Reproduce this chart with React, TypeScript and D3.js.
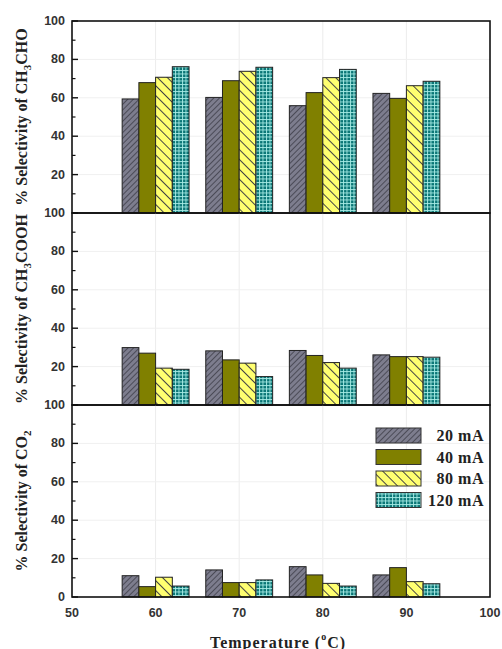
import React from "react";
import * as d3 from "d3";

const temperatures = [60, 70, 80, 90];
const currents = ["20 mA", "40 mA", "80 mA", "120 mA"];
const xTicks = [50, 60, 70, 80, 90, 100];

// rows: 20, 40, 80, 120 mA ; columns: 60, 70, 80, 90 °C
const ch3choValues = [
  [59.4, 60.2, 55.9, 62.3],
  [67.9, 68.9, 62.7, 59.7],
  [70.7, 73.8, 70.5, 66.3],
  [76.2, 75.9, 74.8, 68.6],
];
const ch3coohValues = [
  [29.9, 28.2, 28.4, 26.1],
  [27.0, 23.5, 25.8, 25.2],
  [19.2, 21.8, 22.1, 25.2],
  [18.6, 14.8, 19.2, 24.9],
];
const co2Values = [
  [11.1, 14.1, 15.8, 11.5],
  [5.4, 7.5, 11.5, 15.3],
  [10.3, 7.5, 7.1, 8.0],
  [5.7, 8.9, 5.7, 6.9],
];

const W = 502;
const H = 649;
const left = 72;
const right = 490;
const panelTops = [21, 213, 405];
const panelH = 192;

const fills = ["url(#p20)", "#808000", "url(#p80)", "url(#p120)"];

const x = d3.scaleLinear().domain([50, 100]).range([left, right]);
const barW = 2;

function Panel({ top, values, label, sub, subRest, showZero }: any) {
  const y = d3.scaleLinear().domain([0, 100]).range([top + panelH, top]);
  const majors = [20, 40, 60, 80, 100];
  const minors = d3.range(10, 100, 10).filter((v) => v % 20 !== 0);
  const labelTicks = showZero ? [0, ...majors] : majors;
  const cy = top + panelH / 2;
  return (
    <g>
      {[60, 70, 80, 90].map((t) => (
        <line key={"gx" + t} x1={x(t)} x2={x(t)} y1={top} y2={top + panelH} stroke="#ececec" />
      ))}
      {[20, 40, 60, 80].map((v) => (
        <line key={"gy" + v} x1={left} x2={right} y1={y(v)} y2={y(v)} stroke="#f0f0f0" />
      ))}
      {values.map((row: number[], si: number) =>
        row.map((v, ti) => {
          const t = temperatures[ti];
          const x0 = t - 4 + si * barW;
          return (
            <rect
              key={si + "-" + ti}
              x={x(x0)}
              y={y(v)}
              width={x(x0 + barW) - x(x0)}
              height={y(0) - y(v)}
              fill={fills[si]}
              stroke="#222"
              strokeWidth={1}
            />
          );
        })
      )}
      <rect x={left} y={top} width={right - left} height={panelH} fill="none" stroke="#111" strokeWidth={1.6} />
      {majors.concat([0]).map((v) => (
        <line key={"mt" + v} x1={left} x2={left + 6} y1={y(v)} y2={y(v)} stroke="#111" strokeWidth={1.4} />
      ))}
      {minors.map((v) => (
        <line key={"nt" + v} x1={left} x2={left + 3.5} y1={y(v)} y2={y(v)} stroke="#111" strokeWidth={1.2} />
      ))}
      {labelTicks.map((v) => (
        <text
          key={"tl" + v}
          x={left - 7}
          y={y(v)}
          textAnchor="end"
          dominantBaseline="central"
          fontFamily="Liberation Sans, Arial, sans-serif"
          fontWeight="bold"
          fontSize={12.5}
          fill="#333"
        >
          {v}
        </text>
      ))}
      <text
        transform={`translate(21,${cy}) rotate(-90)`}
        textAnchor="middle"
        dominantBaseline="central"
        fontFamily="Liberation Serif, Times New Roman, serif"
        fontWeight="bold"
        fontSize={16}
        fill="#222"
      >
        {label}
        <tspan baselineShift="sub" fontSize={11}>{sub}</tspan>
        {subRest ? <tspan>{subRest}</tspan> : null}
      </text>
    </g>
  );
}

export default function App() {
  const legendX = 376;
  const legendY = 428;
  return (
    <svg width={W} height={H} style={{ position: "absolute", left: 0, top: 0, background: "#fff" }}>
      <defs>
        <pattern id="p20" patternUnits="userSpaceOnUse" width={4} height={4} patternTransform="rotate(45)">
          <rect width={4} height={4} fill="#7d7d8e" />
          <line x1={0} y1={0} x2={0} y2={4} stroke="#3a3a44" strokeWidth={1.5} />
        </pattern>
        <pattern id="p80" patternUnits="userSpaceOnUse" width={7} height={7} patternTransform="rotate(-45)">
          <rect width={7} height={7} fill="#ffff70" />
          <line x1={0} y1={0} x2={0} y2={7} stroke="#444" strokeWidth={2} />
        </pattern>
        <pattern id="p120" patternUnits="userSpaceOnUse" width={3.5} height={3.5}>
          <rect width={3.5} height={3.5} fill="#087575" />
          <line x1={0} y1={0.5} x2={3.5} y2={0.5} stroke="#a8ece6" strokeWidth={0.9} />
          <line x1={0.5} y1={0} x2={0.5} y2={3.5} stroke="#a8ece6" strokeWidth={0.9} />
        </pattern>
      </defs>
      <rect width={W} height={H} fill="#fff" />
      <Panel top={panelTops[0]} values={ch3choValues} label="% Selectivity of CH" sub="3" subRest="CHO" />
      <Panel top={panelTops[1]} values={ch3coohValues} label="% Selectivity of CH" sub="3" subRest="COOH" />
      <Panel top={panelTops[2]} values={co2Values} label="% Selectivity of CO" sub="2" showZero />
      {xTicks.map((t) => (
        <text
          key={"xt" + t}
          x={x(t)}
          y={613}
          textAnchor="middle"
          dominantBaseline="central"
          fontFamily="Liberation Sans, Arial, sans-serif"
          fontWeight="bold"
          fontSize={12.5}
          fill="#333"
        >
          {t}
        </text>
      ))}
      <text
        x={278}
        y={642}
        textAnchor="middle"
        dominantBaseline="central"
        fontFamily="Liberation Serif, Times New Roman, serif"
        fontWeight="bold"
        fontSize={16}
        letterSpacing={1}
        fill="#222"
      >
        Temperature (<tspan baselineShift="super" fontSize={10}>o</tspan>C)
      </text>
      {currents.map((c, i) => (
        <g key={c}>
          <rect x={legendX} y={legendY + i * 21.5} width={45} height={15} fill={fills[i]} stroke="#333" strokeWidth={1} />
          <text
            x={484}
            y={legendY + i * 21.5 + 7.5}
            textAnchor="end"
            dominantBaseline="central"
            fontFamily="Liberation Serif, Times New Roman, serif"
            fontWeight="bold"
            fontSize={16}
            letterSpacing={0.5}
            fill="#222"
          >
            {c}
          </text>
        </g>
      ))}
    </svg>
  );
}
